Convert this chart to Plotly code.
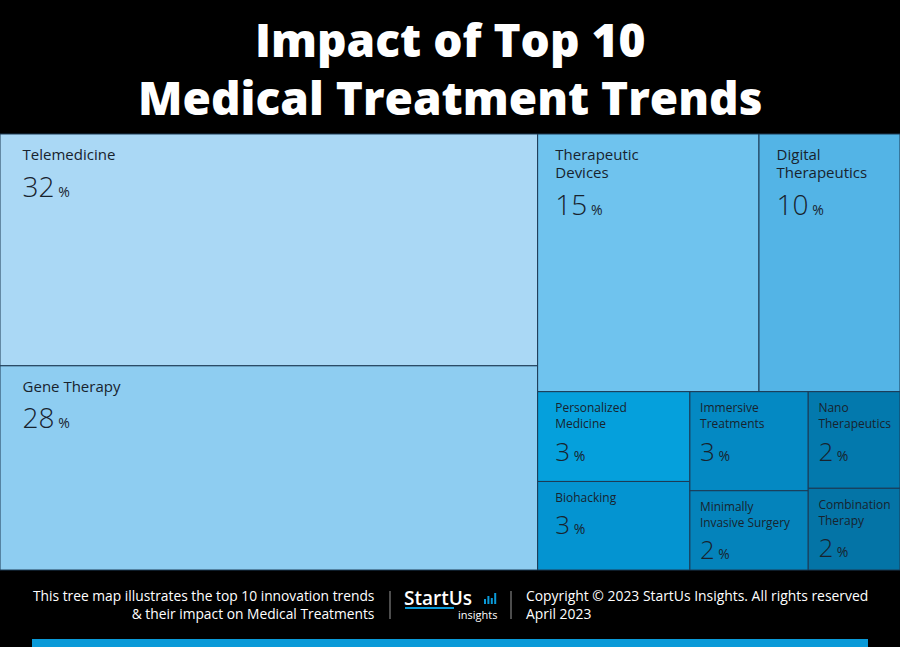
import math
import plotly.graph_objects as go

# ---- data ----
trends = ["Telemedicine", "Gene Therapy", "Therapeutic Devices", "Digital Therapeutics",
          "Personalized Medicine", "Biohacking", "Immersive Treatments",
          "Minimally Invasive Surgery", "Nano Therapeutics", "Combination Therapy"]
# label line breaks as printed in the chart
label_lines = [["Telemedicine"], ["Gene Therapy"], ["Therapeutic", "Devices"],
               ["Digital", "Therapeutics"], ["Personalized", "Medicine"], ["Biohacking"],
               ["Immersive", "Treatments"], ["Minimally", "Invasive Surgery"],
               ["Nano", "Therapeutics"], ["Combination", "Therapy"]]
# share estimated from tile areas (the printed percentages are rounded)
impact_share = [31.9, 28.1, 14.6, 9.3, 3.5, 3.45, 3.0, 2.4, 2.27, 1.92]
impact_label = [32, 28, 15, 10, 3, 3, 3, 2, 2, 2]
tile_colors = ["#aad8f5", "#8ecdf1", "#6fc3ee", "#53b4e6", "#05a0dc",
               "#0494d1", "#0489c3", "#0483bb", "#0379ad", "#0474a6"]

W, H = 900, 647
big = [True, True, True, True, False, False, False, False, False, False]
lead_px = [19.6, 19.6, 14.7, 14.6, 14.6, 14.6, 7.2, 7.2, 7.2, 7.2]


def pad(px, size):
    n = max(1, math.ceil(px / (0.26 * size)))
    s = px / (0.26 * n)
    return f'<span style="font-size:{s:.2f}px">' + "&nbsp;" * n + "</span>"


texts, sizes = [], []
for lines, pct, b, lp in zip(label_lines, impact_label, big, lead_px):
    lab_size = 15 if b else 12
    num_size = 28 if b else 26
    spacer = '<span style="font-size:5px">&nbsp;</span>' if b else '<span style="font-size:1px">&nbsp;</span>'
    parts = [spacer]
    for ln in lines:
        parts.append(pad(lp, lab_size) + f'<span style="font-size:{lab_size}px">{ln}</span>')
    parts.append("")
    parts.append(pad(lp, lab_size) + f'<span style="font-size:{num_size}px;font-weight:300">{pct}</span>'
                 f'<span style="font-size:14px"> %</span>')
    texts.append("<br>".join(parts))
    sizes.append(14 if b else 12.5)

fig = go.Figure(go.Treemap(
    labels=trends,
    parents=[""] * len(trends),
    values=impact_share,
    text=texts,
    textinfo="text",
    textposition="top left",
    textfont=dict(family="Open Sans", size=sizes, color="#18232e"),
    marker=dict(colors=tile_colors, line=dict(color="#1d3a55", width=1),
                pad=dict(t=0, l=0, r=0, b=0)),
    tiling=dict(packing="squarify", squarifyratio=1.618, pad=0),
    sort=True,
    pathbar=dict(visible=False),
    hoverinfo="skip",
    domain=dict(x=[0, 1], y=[(H - 570) / H, (H - 134) / H]),
))

white = "#ffffff"
ann = []
ann.append(dict(text="Impact of Top 10", x=0.5, y=1 - 39.5 / H, xref="paper", yref="paper",
                yanchor="middle", showarrow=False,
                font=dict(family="Open Sans", size=46, color=white, weight=800)))
ann.append(dict(text="Medical Treatment Trends", x=0.5, y=1 - 96.5 / H, xref="paper", yref="paper",
                yanchor="middle", showarrow=False,
                font=dict(family="Open Sans", size=46, color=white, weight=800)))
ann.append(dict(text="This tree map illustrates the top 10 innovation trends<br>& their impact on Medical Treatments",
                x=376 / W, y=1 - 604 / H, xref="paper", yref="paper", xanchor="right", yanchor="middle",
                align="right", showarrow=False, font=dict(family="Open Sans", size=13.8, color=white)))
ann.append(dict(text="Copyright © 2023 StartUs Insights. All rights reserved<br>April 2023",
                x=524 / W, y=1 - 604 / H, xref="paper", yref="paper", xanchor="left", yanchor="middle",
                align="left", showarrow=False, font=dict(family="Open Sans", size=13.9, color=white)))
ann.append(dict(text="StartUs", x=402 / W, y=1 - 598 / H, xref="paper", yref="paper", xanchor="left",
                yanchor="middle", showarrow=False, font=dict(family="Open Sans", size=19, color=white, weight=600)))
ann.append(dict(text="insights", x=499 / W, y=1 - 614 / H, xref="paper", yref="paper", xanchor="right",
                yanchor="middle", showarrow=False, font=dict(family="Open Sans", size=11, color=white)))

shapes = []
for sx in (390, 511):
    shapes.append(dict(type="line", xref="paper", yref="paper", x0=sx / W, x1=sx / W,
                       y0=1 - 591 / H, y1=1 - 619 / H, line=dict(color="#9a9a9a", width=1)))
shapes.append(dict(type="line", xref="paper", yref="paper", x0=405 / W, x1=454 / W,
                   y0=1 - 608 / H, y1=1 - 608 / H, line=dict(color="#0a9ad8", width=2)))
for i, bh in enumerate([5, 8, 6, 11]):
    bx = 484 + i * 3.4
    shapes.append(dict(type="rect", xref="paper", yref="paper", x0=bx / W, x1=(bx + 2) / W,
                       y0=1 - 604 / H, y1=1 - (604 - bh) / H, line=dict(width=0), fillcolor="#0a9ad8"))
shapes.append(dict(type="rect", xref="paper", yref="paper", x0=32 / W, x1=868 / W,
                   y0=0, y1=1 - 639 / H, line=dict(width=0), fillcolor="#0a9ad8"))

fig.update_layout(width=W, height=H, margin=dict(l=0, r=0, t=0, b=0),
                  paper_bgcolor="#000000", plot_bgcolor="#000000",
                  annotations=ann, shapes=shapes, showlegend=False)
fig.write_html("out.html", config={"displayModeBar": False},
               post_script="document.body.style.margin='0';")
